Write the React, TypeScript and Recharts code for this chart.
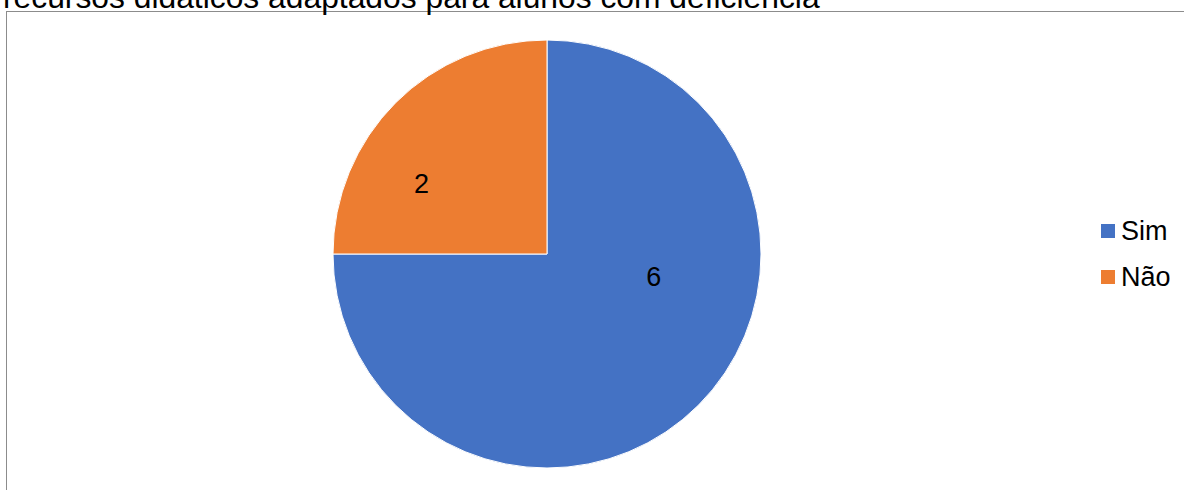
import { PieChart, Pie, Cell } from 'recharts';

const categories = ['Sim', 'Não'];
const values = [6, 2];
const colors = ['#4472C4', '#ED7D31'];
const title = 'recursos didáticos adaptados para alunos com deficiência';

const data = categories.map((name, i) => ({ name, value: values[i] }));

// where the value labels sit, relative to each slice's middle angle (Excel "best fit")
const labelAngleShift = [33, 16];
const labelRadius = [0.51, 0.67];

const RAD = Math.PI / 180;

function renderLabel(props: any) {
  const { cx, cy, midAngle, outerRadius, value, index } = props;
  const r = outerRadius * labelRadius[index];
  const a = (midAngle + labelAngleShift[index]) * RAD;
  const x = cx + r * Math.cos(-a);
  const y = cy + r * Math.sin(-a);
  return (
    <text
      x={x}
      y={y}
      textAnchor="middle"
      dominantBaseline="central"
      fill="#000"
      fontSize={27}
      fontFamily="'Liberation Sans', Arial, sans-serif"
    >
      {value}
    </text>
  );
}

export default function App() {
  return (
    <div
      style={{
        position: 'absolute',
        left: 0,
        top: 0,
        width: 1184,
        height: 490,
        overflow: 'hidden',
        background: '#fff',
        fontFamily: "'Liberation Sans', Arial, sans-serif",
      }}
    >
      <div
        style={{
          position: 'absolute',
          left: 6,
          top: 11,
          width: 1200,
          height: 500,
          border: '1px solid #8c8c8c',
        }}
      />
      <div
        style={{
          position: 'absolute',
          left: 3,
          top: -19,
          fontSize: 31.8,
          lineHeight: '32px',
          color: '#000',
          whiteSpace: 'nowrap',
        }}
      >
        {title}
      </div>
      <div style={{ position: 'absolute', left: 0, top: 0 }}>
        <PieChart width={1184} height={490} margin={{ top: 0, right: 0, bottom: 0, left: 0 }}>
          <Pie
            data={data}
            dataKey="value"
            nameKey="name"
            cx={547}
            cy={254}
            outerRadius={214}
            startAngle={90}
            endAngle={-270}
            stroke="#fff"
            strokeWidth={1}
            label={renderLabel}
            labelLine={false}
            isAnimationActive={false}
          >
            {data.map((d, i) => (
              <Cell key={d.name} fill={colors[i]} />
            ))}
          </Pie>
        </PieChart>
      </div>
      <div style={{ position: 'absolute', left: 1101, top: 208 }}>
        {data.map((d, i) => (
          <div
            key={d.name}
            style={{ display: 'flex', alignItems: 'center', height: 46, fontSize: 27, color: '#000' }}
          >
            <span
              style={{ display: 'inline-block', width: 14, height: 14, background: colors[i], marginRight: 6 }}
            />
            {d.name}
          </div>
        ))}
      </div>
    </div>
  );
}
